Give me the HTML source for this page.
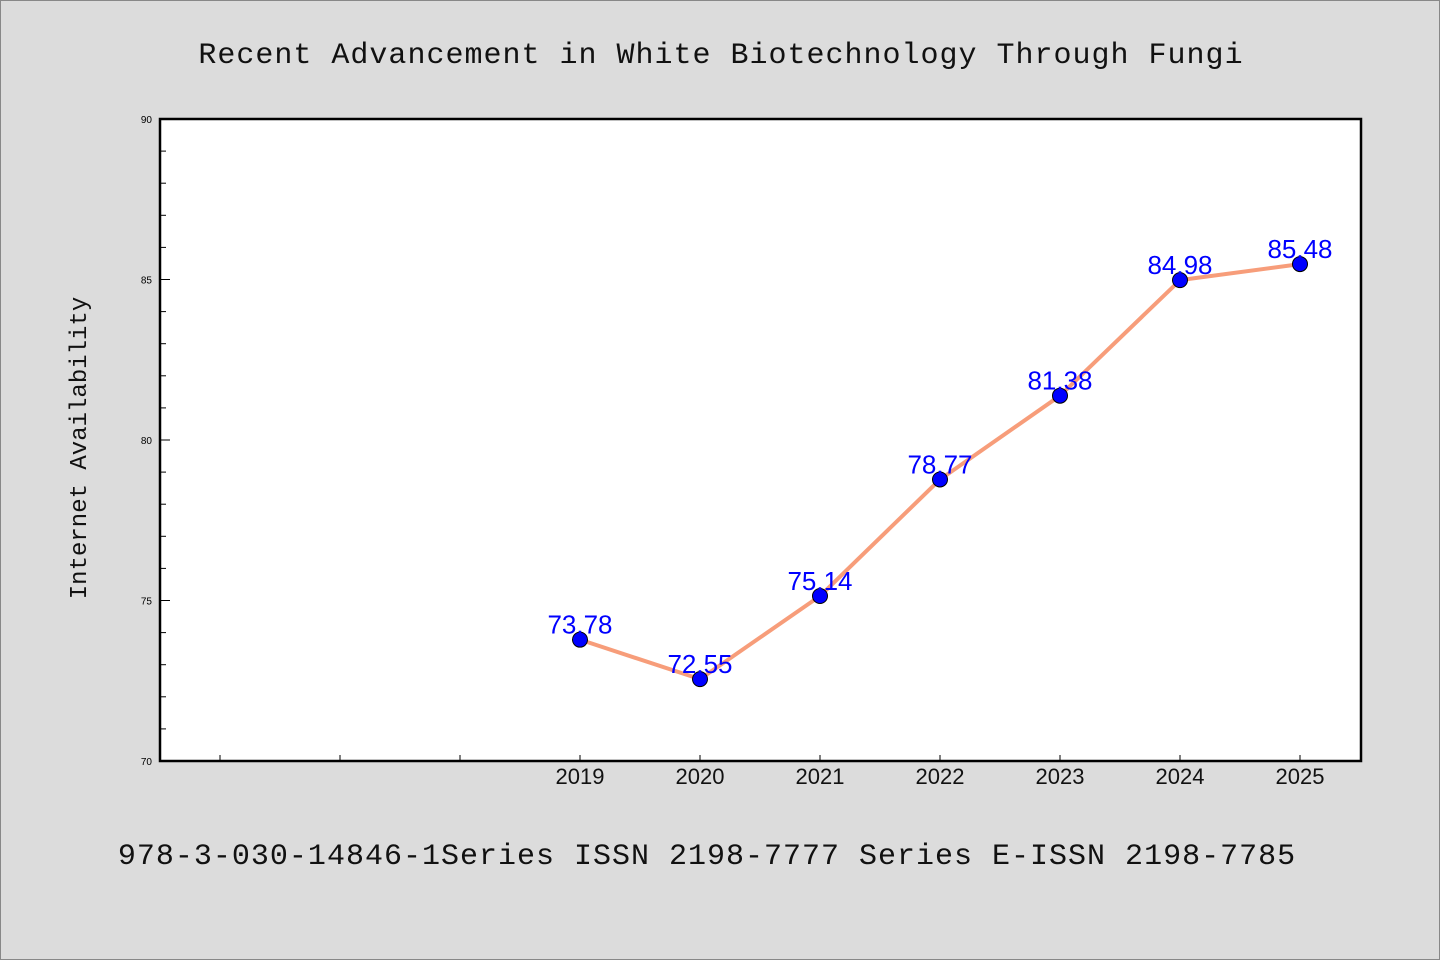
<!DOCTYPE html>
<html><head><meta charset="utf-8"><style>
body{margin:0;background:#dcdcdc;}
svg{display:block;}
</style></head><body>
<svg width="1440" height="960" xmlns="http://www.w3.org/2000/svg">
<rect x="0.5" y="0.5" width="1439" height="959" fill="#dcdcdc" stroke="#888"/>
<text x="721" y="63" text-anchor="middle" font-family="Liberation Mono, monospace" font-size="30" letter-spacing="1" fill="#111">Recent Advancement in White Biotechnology Through Fungi</text>
<rect x="160" y="119" width="1201" height="642" fill="#fff" stroke="#000" stroke-width="2.5"/>
<g id="yaxis"></g><g id="xaxis"></g><g id="series"></g>
<text transform="translate(86,448) rotate(-90)" text-anchor="middle" font-family="Liberation Mono, monospace" font-size="24" fill="#111">Internet Availability</text>
<text x="707" y="864" text-anchor="middle" font-family="Liberation Mono, monospace" font-size="30" letter-spacing="1" fill="#111">978-3-030-14846-1Series ISSN 2198-7777 Series E-ISSN 2198-7785</text>
</svg>
<script>
const categories=[2019,2020,2021,2022,2023,2024,2025];
const values=[73.78,72.55,75.14,78.77,81.38,84.98,85.48];
const yTicks=[70,75,80,85,90];
const NS="http://www.w3.org/2000/svg";
function mk(t,a,p){const e=document.createElementNS(NS,t);for(const k in a)e.setAttribute(k,a[k]);p.appendChild(e);return e;}
const y=v=>761-(v-70)*(642/20);
const x=yr=>580+(yr-2019)*120;
const ya=document.getElementById('yaxis');
for(let v=70;v<=90;v++){
 const l=mk('line',{x1:160,x2:yTicks.includes(v)?170:166,y1:y(v),y2:y(v),stroke:'#000','stroke-width':1},ya);
 
 
}
yTicks.forEach(v=>{const t=mk('text',{x:152,y:y(v)+4,'text-anchor':'end','font-family':'Liberation Sans, sans-serif','font-size':10,fill:'#000'},ya);t.textContent=v;
 
 });
const xa=document.getElementById('xaxis');
for(let yr=2016;yr<=2025;yr++){
 const l=mk('line',{x1:x(yr),x2:x(yr),y1:761,y2:755,stroke:'#000','stroke-width':1},xa);
 
 
}
categories.forEach(c=>{const t=mk('text',{x:x(c),y:784,'text-anchor':'middle','font-family':'Liberation Sans, sans-serif','font-size':22,fill:'#111'},xa);t.textContent=c;
 
 });
const s=document.getElementById('series');
const pl=mk('polyline',{points:categories.map((c,i)=>x(c)+','+y(values[i])).join(' '),fill:'none',stroke:'#f79d7a','stroke-width':4,'stroke-linejoin':'round'},s);


categories.forEach((c,i)=>{
 const p=mk('circle',{cx:x(c),cy:y(values[i]),r:7.5,fill:'#0000ff',stroke:'#000','stroke-width':1},s);
 
 
 const t=mk('text',{x:x(c),y:y(values[i])-6,'text-anchor':'middle','font-family':'Liberation Sans, sans-serif','font-size':26,fill:'#0000ff'},s);
 t.textContent=values[i].toFixed(2);
 
 
});
</script>
</body></html>
